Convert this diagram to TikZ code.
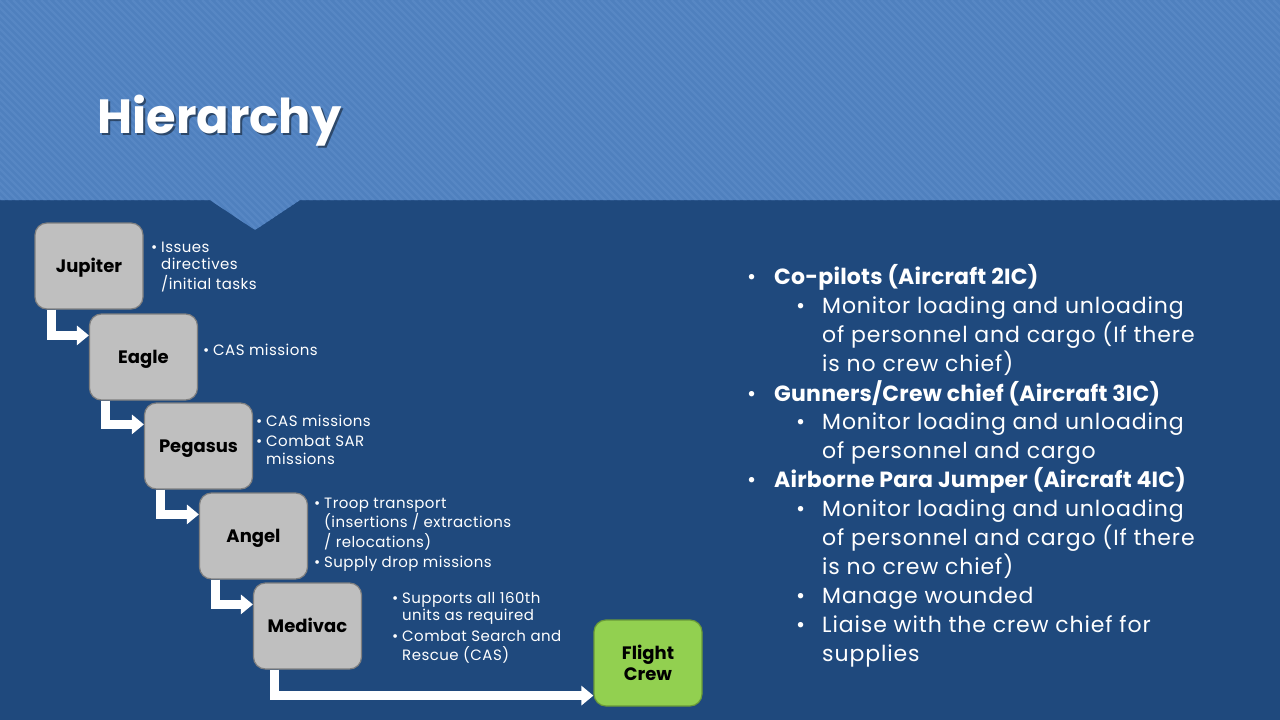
\documentclass[tikz,border=0pt]{standalone}
\usepackage{fontspec}
\setmainfont{Poppins}
\usetikzlibrary{arrows.meta}
\definecolor{bodyblue}{HTML}{1F497D}
\definecolor{headblue}{HTML}{4F80BE}
\definecolor{stripeblue}{HTML}{5787C4}
\definecolor{boxgray}{HTML}{BFBFBF}
\definecolor{boxedge}{HTML}{7F7F7F}
\definecolor{crewgreen}{HTML}{92D050}
\definecolor{crewedge}{HTML}{6A9A38}
\tikzset{
  rolebox/.style={rounded corners=12pt, minimum width=108pt, minimum height=86pt,
    fill=boxgray, draw=boxedge, line width=1.2pt, align=center,
    font=\fontsize{18}{21}\selectfont\bfseries, text=black, inner sep=2pt},
  oneline/.style={text height=12pt, text depth=0pt},
  crewbox/.style={rolebox, fill=crewgreen, draw=crewedge},
  flow/.style={draw=white, line width=9pt,
    -{Triangle[length=12pt,width=19pt]}},
  desc/.style={anchor=north west, text=white, inner sep=0pt,
    font=\fontsize{15}{17.5}\selectfont\addfontfeature{LetterSpace=3}},
  duties/.style={anchor=north west, text=white, inner sep=0pt,
    font=\fontsize{22}{28.8}\selectfont\addfontfeature{LetterSpace=4}},
}
\newcommand{\bl}{\makebox[10pt][l]{•}}
\newcommand{\bA}{\makebox[27pt][l]{•}}
\newcommand{\bB}{\makebox[26pt][l]{•}}
\newcommand{\head}[1]{{\bfseries\addfontfeature{LetterSpace=1}#1}}
\begin{document}
\begin{tikzpicture}[x=1pt,y=-1pt]
\useasboundingbox (0,0) rectangle (1280,720);
% slide background
\fill[bodyblue] (0,0) rectangle (1280,720);
% striped header band with notch
\begin{scope}
  \clip (0,0) -- (1280,0) -- (1280,200) -- (300,200) -- (258,228)
    .. controls (255,230) .. (252,228) -- (210,200) -- (0,200) -- cycle;
  \fill[headblue] (0,0) rectangle (1280,240);
  \foreach \s in {-260,-253,...,1280}
    \draw[stripeblue, line width=2.4pt] (\s,0) -- (\s+240,240);
\end{scope}
% title
\node[anchor=base west, text=black, opacity=0.45, inner sep=0pt,
  font=\fontsize{48}{48}\selectfont\bfseries] at (99,135) {Hierarchy};
\node[anchor=base west, text=white, inner sep=0pt,
  font=\fontsize{48}{48}\selectfont\bfseries] (title) at (97,133) {Hierarchy};

% chain of command
\node[rolebox, oneline] (jup) at (89,266) {Jupiter};
\node[rolebox, oneline] (eag) at (143.5,357) {Eagle};
\node[rolebox, oneline] (peg) at (198.5,446) {Pegasus};
\node[rolebox, oneline] (ang) at (253.5,536) {Angel};
\node[rolebox, oneline] (med) at (307.5,626) {Medivac};
\node[crewbox] (crew) at (648,663) {Flight\\Crew};

\draw[flow] ([xshift=17pt]jup.south west) |- ([yshift=-22pt]eag.north west);
\draw[flow] ([xshift=17pt]eag.south west) |- ([yshift=-22pt]peg.north west);
\draw[flow] ([xshift=17pt]peg.south west) |- ([yshift=-22pt]ang.north west);
\draw[flow] ([xshift=17pt]ang.south west) |- ([yshift=-22pt]med.north west);
\draw[flow] ([xshift=22pt]med.south west) |- ([yshift=11pt]crew.south west);

% role descriptions
\node[desc] (djup) at (151,240) {\begin{tabular}{@{}l@{}l@{}}
  \bl & Issues\\ & directives\\ & /initial tasks\end{tabular}};
\node[desc] (deag) at (203,343) {\begin{tabular}{@{}l@{}l@{}}
  \bl & CAS missions\end{tabular}};
\node[desc] (dpeg) at (256,414) {\begin{tabular}{@{}l@{}l@{}}
  \bl & CAS missions\\[3pt] \bl & Combat SAR\\ & missions\end{tabular}};
\node[desc] (dang) at (314,496) {\begin{tabular}{@{}l@{}l@{}}
  \bl & Troop transport\\ & (insertions / extractions\\ & / relocations)\\[3pt]
  \bl & Supply drop missions\end{tabular}};
\node[desc] (dmed) at (392,591) {\begin{tabular}{@{}l@{}l@{}}
  \bl & Supports all 160th\\ & units as required\\[3pt]
  \bl & Combat Search and\\ & Rescue (CAS)\end{tabular}};

% aircrew duties
\node[duties] (crewlist) at (747,264) {\begin{tabular}{@{}l@{}l@{}l@{}l@{}}
  \bA & \multicolumn{3}{@{}l@{}}{\head{Co-pilots (Aircraft 2IC)}}\\
  & \hspace{22pt} & \bB & Monitor loading and unloading\\
  & & & of personnel and cargo (If there\\
  & & & is no crew chief)\\
  \bA & \multicolumn{3}{@{}l@{}}{\head{Gunners/Crew chief (Aircraft 3IC)}}\\
  & & \bB & Monitor loading and unloading\\
  & & & of personnel and cargo\\
  \bA & \multicolumn{3}{@{}l@{}}{\head{Airborne Para Jumper (Aircraft 4IC)}}\\
  & & \bB & Monitor loading and unloading\\
  & & & of personnel and cargo (If there\\
  & & & is no crew chief)\\
  & & \bB & Manage wounded\\
  & & \bB & Liaise with the crew chief for\\
  & & & supplies
\end{tabular}};
\end{tikzpicture}
\end{document}
